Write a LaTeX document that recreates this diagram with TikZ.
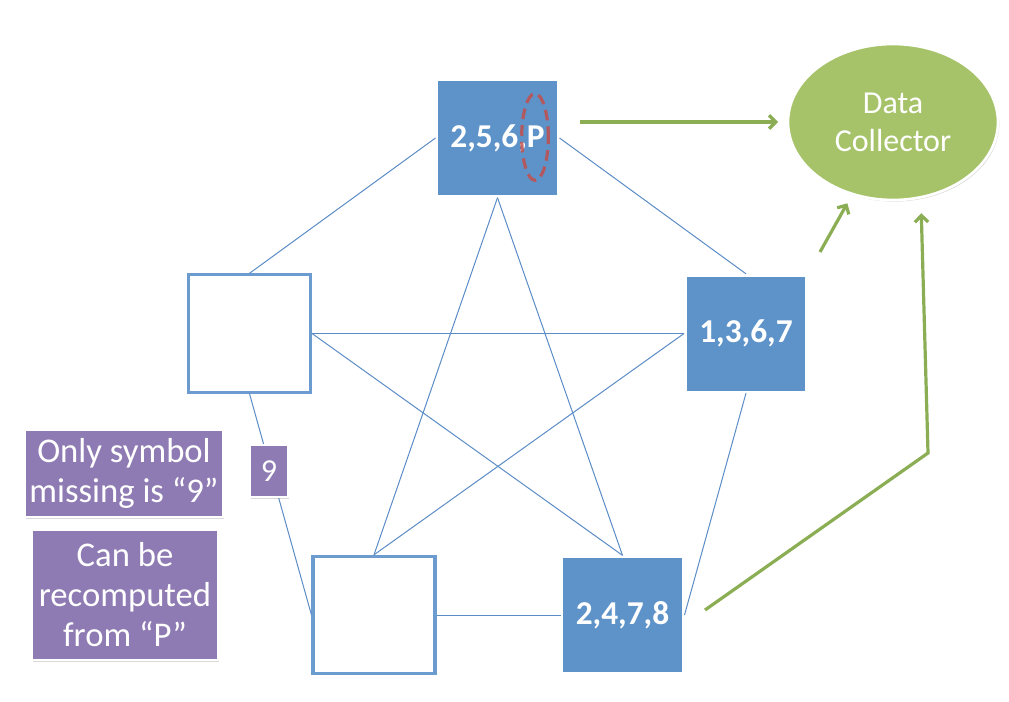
\documentclass[tikz,border=0pt]{standalone}
\usepackage{fontspec}
\setmainfont{Carlito}
\usetikzlibrary{arrows.meta,shapes.geometric,shadows}
\definecolor{boxblue}{HTML}{5E93C9}
\definecolor{edgeblue}{HTML}{5B8CC6}
\definecolor{frameblue}{HTML}{6C9BD0}
\definecolor{collgreen}{HTML}{A6C36A}
\definecolor{arrgreen}{HTML}{8BAE55}
\definecolor{notepurple}{HTML}{8F7BB3}
\definecolor{markred}{HTML}{C0504D}

\begin{document}
\begin{tikzpicture}[x=0.75pt, y=-0.75pt,
  softshadow/.style={drop shadow={opacity=0.3, shadow xshift=1pt, shadow yshift=-1.2pt}},
  fullbox/.style={rectangle, fill=boxblue, draw=white, line width=2pt, softshadow, minimum width=91pt, minimum height=87.5pt, text=white, font=\fontsize{25}{30}\selectfont\bfseries},
  emptybox/.style={rectangle, fill=white, draw=frameblue, line width=2.3pt, minimum width=91.5pt, minimum height=88pt},
  notebox/.style={rectangle, fill=notepurple, draw=white, line width=2pt, softshadow, text=white, align=center, inner sep=0pt, font=\fontsize{26}{30}\selectfont},
  link/.style={draw=edgeblue, line width=0.75pt},
  feed/.style={draw=arrgreen, line width=2.4pt, -{Straight Barb[length=5pt,width=10pt]}}
]
\useasboundingbox (0,0) rectangle (1009,702);

% the five storage nodes
\node[fullbox] (top) at (497.5,138) {2,5,6,P};
\node[fullbox] (right) at (746,333.5) {1,3,6,7};
\node[fullbox] (botright) at (622.5,615) {2,4,7,8};
\node[emptybox] (left) at (249.5,333.5) {};
\node[emptybox] (botleft) at (374,615) {};
\node[ellipse, draw=markred, draw opacity=0.85, line width=2.4pt, dash pattern=on 8pt off 4.5pt, minimum width=20pt, minimum height=65pt, inner sep=0pt] (pmark) at (535,137) {};

\node[ellipse, fill=collgreen, draw=white, line width=2pt, softshadow, minimum width=157.5pt, minimum height=117pt, text=white, align=center, font=\fontsize{24}{28.5}\selectfont] (collector) at (893,122) {Data\\Collector};

% pentagon and star
\draw[link] (top.west) -- (left.north);
\draw[link] (top.east) -- (right.north);
\draw[link] (top.south) -- (botleft.north);
\draw[link] (top.south) -- (botright.north);
\draw[link] (left.east) -- (right.west);
\draw[link] (left.east) -- (botright.north);
\draw[link] (right.west) -- (botleft.north);
\draw[link] (left.south) -- (botleft.west);
\draw[link] (right.south) -- (botright.east);
\draw[link] (botleft.east) -- (botright.west);

% notes
\node[notebox, minimum width=148.5pt, minimum height=65.25pt] (missing) at (124,473.5) {Only symbol\\missing is “9”};
\node[notebox, minimum width=139.5pt, minimum height=97.5pt] (recompute) at (125,595) {Can be\\recomputed\\from “P”};
\node[notebox, minimum width=28.5pt, minimum height=39pt, font=\fontsize{24}{28}\selectfont] (nine) at (269,471) {9};

% feeds to the collector
\coordinate (feedtop) at (580,122);
\coordinate (feedmid) at (820,252);
\coordinate (feedlow) at (705,610);
\coordinate (bend) at (928,453);
\draw[feed, shorten >=6.5pt] (feedtop) -- (collector);
\draw[feed, shorten >=7pt] (feedmid) -- (collector);
\draw[feed, shorten >=11pt] (feedlow) -- (bend) -- (collector.-70);
\end{tikzpicture}
\end{document}
